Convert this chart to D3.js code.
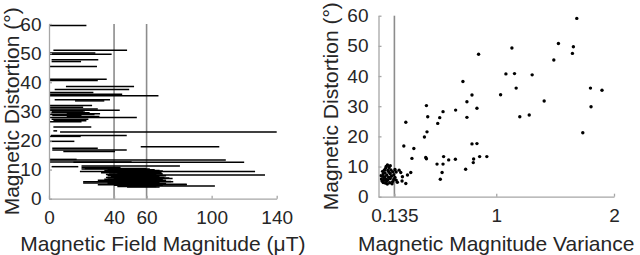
<!DOCTYPE html>
<html>
<head>
<meta charset="utf-8">
<title>Magnetic distortion</title>
<script src="https://d3js.org/d3.v7.min.js"></script>
<style>
 body { margin:0; background:#fff; }
 text { font-family:"Liberation Sans", Arial, Helvetica, sans-serif; fill:#262626; }
 .axis text { font-size:19px; fill:#262626; }
 .axis path, .axis line { stroke:#a6a6a6; stroke-width:1.3; }
 .title { font-size:21px; }
 .ref { stroke:#8c8c8c; stroke-width:1.6; }
 .seg { stroke:#000; stroke-width:1.5; }
 .dot { fill:#000; }
</style>
</head>
<body>
<svg id="chart" width="640" height="255"></svg>
<script>
// left panel: magnitude range per recording
var segDistortion = [59.5, 51.0, 50.0, 49.6, 47.7, 47.1, 45.4, 41.0, 40.6, 38.5,
  37.5, 36.5, 35.9, 35.4, 34.0, 33.6, 32.0, 31.4, 30.8, 30.4,
  30.1, 29.8, 29.5, 29.2, 28.9, 28.6, 28.2, 27.9, 27.3, 26.8,
  26.4, 24.6, 23.3, 22.9, 21.7, 21.4, 19.7, 17.8, 17.3, 16.7,
  16.2, 13.5, 13.3, 12.6, 12.5, 11.2, 11.0, 10.7,
  10.4, 10.2, 9.9, 9.7, 9.5, 9.3, 9.1, 8.9, 8.7, 8.5,
  8.3, 8.1, 7.9, 7.7, 7.5, 7.3, 7.1, 6.9, 6.7, 6.5,
  6.3, 6.1, 5.9, 5.8, 5.6, 5.4, 5.2, 5.0, 4.8, 4.6,
  4.4, 4.2, 4.0];
var segMin = [0, 2.7, 0, 0, 1.6, 1.6, 0, 0, 0, 10.4,
  3.5, 0, 0, 0, 3.5, 16, 0, 0, 0, 0,
  1.6, 1.6, 1.0, 10.9, 0, 2, 10.9, 0, 1.6, 2.7,
  0, 2.7, 2.7, 6.8, 1.2, 0, 0, 56.4, 2, 2,
  8.8, 0, 0, 0.6, 15, 20, 1.6, 20,
  22, 20, 36, 34, 40, 19, 38, 32, 42, 37,
  35, 40, 36, 41, 38, 35, 36, 40, 34, 35,
  30, 42, 38, 21, 36, 21, 36, 38, 30, 40,
  45, 42, 48];
var segMax = [23, 48, 28.5, 38.5, 30.3, 19.7, 29.5, 35.5, 30, 52.3,
  49.3, 27.3, 45, 67.3, 37.5, 34, 26.5, 21, 30, 43.5,
  21, 22, 25, 31.4, 28, 20, 31, 54, 24.2, 23,
  20, 26, 5, 140, 47.8, 19.5, 15.6, 104.7, 30, 47.8,
  40.6, 17, 108.7, 50.8, 120, 80.5, 18, 44,
  60, 62, 65, 68, 70, 126.7, 64, 69, 69.5, 70,
  66, 132.8, 72, 65, 68, 71, 74, 76, 66, 70,
  72, 64, 75, 76.4, 68, 65, 72, 84.7, 84.7, 70,
  102, 66, 68];

// right panel: magnitude variance vs distortion
var varX = [0.85, 0.717, 0.794, 0.751, 0.836, 0.655, 0.407, 0.418, 0.52, 0.548,
  0.503, 0.751, 0.232, 1.684, 1.528, 1.655, 1.647, 1.133, 1.489, 1.082,
  1.155, 1.305, 1.169, 1.037, 1.407, 1.8, 1.898, 1.805, 1.2, 1.28,
  1.735, 0.794, 0.836, 0.808, 0.805, 0.859, 0.92, 0.412, 0.39, 0.215,
  0.3, 0.284, 0.401, 0.407, 0.553, 0.596, 0.653, 0.497, 0.548, 0.54,
  0.525, 0.74, 0.274, 0.246, 0.203, 0.189, 0.175, 0.232, 0.15, 0.2,
  0.076, 0.06, 0.05, 0.08, 0.09, 0.04, 0.07, 0.1, 0.05, 0.065,
  0.03, 0.07, 0.1, 0.095, 0.12, 0.04, 0.11, 0.12, 0.035, 0.055,
  0.085, 0.025, 0.045, 0.06, 0.13, 0.14, 0.15, 0.13, 0.09, 0.065,
  0.035, 0.105, 0.02, 0.075, 0.115, 0.08, 0.14, 0.16, 0.055, 0.1];
var varY = [47.2, 38.2, 33.7, 31.5, 29.3, 28.7, 30.2, 26.5, 26.2, 28.2,
  24.3, 26.3, 24.7, 59.1, 50.8, 49.7, 47.5, 49.3, 45.3, 40.7,
  40.8, 40.4, 36.0, 33.8, 31.7, 36.0, 35.3, 29.8, 26.5, 27.1,
  21.2, 17.5, 17.6, 12.5, 11.3, 13.3, 13.3, 21.5, 19.8, 16.8,
  16.0, 12.7, 13.0, 12.6, 13.3, 12.2, 12.4, 10.8, 10.8, 8.0,
  5.8, 9.1, 8.0, 7.2, 6.6, 8.0, 8.8, 4.4, 5.5, 5.2,
  10.5, 9.4, 8.8, 8.7, 8.1, 7.6, 7.2, 7.6, 6.2, 5.7,
  5.2, 5.1, 6.0, 4.6, 5.0, 4.7, 6.8, 8.3, 6.8, 7.9,
  6.5, 5.9, 5.4, 4.5, 7.3, 9.0, 8.2, 5.8, 9.7, 10.0,
  8.4, 8.9, 7.0, 4.2, 4.3, 5.6, 6.4, 4.8, 6.6, 10.3];

var yTicks = [0, 10, 20, 30, 40, 50, 60];
var leftXTicks = [0, 40, 60, 100, 140];
var rightXTicks = [0.135, 1, 2];
var leftRefLines = [40, 60];
var rightRefLines = [0.135];

var svg = d3.select("#chart");

// ---- left panel ----
var xL = d3.scaleLinear().domain([0, 140]).range([49, 276.7]);
var yL = d3.scaleLinear().domain([0, 60]).range([198.7, 24]);

var gL = svg.append("g");

gL.selectAll(".ref")
  .data(leftRefLines)
  .enter().append("line")
  .attr("class", "ref")
  .attr("x1", d => xL(d)).attr("x2", d => xL(d))
  .attr("y1", yL(0)).attr("y2", yL(60));

gL.selectAll(".seg")
  .data(segDistortion)
  .enter().append("line")
  .attr("class", "seg")
  .attr("x1", (d, i) => xL(segMin[i]))
  .attr("x2", (d, i) => xL(segMax[i]))
  .attr("y1", d => yL(d))
  .attr("y2", d => yL(d));

gL.append("g")
  .attr("class", "axis")
  .attr("transform", "translate(0," + yL(0) + ")")
  .call(d3.axisBottom(xL).tickValues(leftXTicks).tickFormat(d3.format("d"))
    .tickSizeInner(-3).tickSizeOuter(0).tickPadding(11.5));

gL.append("g")
  .attr("class", "axis")
  .attr("transform", "translate(" + xL(0) + ",0)")
  .call(d3.axisLeft(yL).tickValues(yTicks).tickFormat(d3.format("d"))
    .tickSizeInner(-3).tickSizeOuter(0).tickPadding(7.5));

gL.append("text")
  .attr("class", "title")
  .attr("x", (xL(0) + xL(140)) / 2)
  .attr("y", 250.7)
  .attr("text-anchor", "middle")
  .text("Magnetic Field Magnitude (μT)");

gL.append("text")
  .attr("class", "title")
  .attr("transform", "translate(19," + (yL(0) + yL(60)) / 2 + ") rotate(-90)")
  .attr("text-anchor", "middle")
  .text("Magnetic Distortion (°)");

// ---- right panel ----
var xR = d3.scaleLinear().domain([0, 2]).range([378.5, 614]);
var yR = d3.scaleLinear().domain([0, 60]).range([196.7, 15.7]);

var gR = svg.append("g");

gR.selectAll(".ref")
  .data(rightRefLines)
  .enter().append("line")
  .attr("class", "ref")
  .attr("x1", d => xR(d)).attr("x2", d => xR(d))
  .attr("y1", yR(0)).attr("y2", yR(60));

gR.selectAll(".dot")
  .data(varX)
  .enter().append("circle")
  .attr("class", "dot")
  .attr("cx", d => xR(d))
  .attr("cy", (d, i) => yR(varY[i]))
  .attr("r", 1.7);

gR.append("g")
  .attr("class", "axis")
  .attr("transform", "translate(0," + yR(0) + ")")
  .call(d3.axisBottom(xR).tickValues(rightXTicks).tickFormat(d => d === 0.135 ? "0.135" : d3.format("d")(d))
    .tickSizeInner(-3).tickSizeOuter(0).tickPadding(11.5));

gR.append("g")
  .attr("class", "axis")
  .attr("transform", "translate(" + xR(0) + ",0)")
  .call(d3.axisLeft(yR).tickValues(yTicks).tickFormat(d3.format("d"))
    .tickSizeInner(-3).tickSizeOuter(0).tickPadding(10));

gR.append("text")
  .attr("class", "title")
  .attr("x", (xR(0) + xR(2)) / 2)
  .attr("y", 250.7)
  .attr("text-anchor", "middle")
  .text("Magnetic Magnitude Variance");

gR.append("text")
  .attr("class", "title")
  .attr("transform", "translate(338," + (yR(0) + yR(60)) / 2 + ") rotate(-90)")
  .attr("text-anchor", "middle")
  .text("Magnetic Distortion (°)");
</script>
</body>
</html>
